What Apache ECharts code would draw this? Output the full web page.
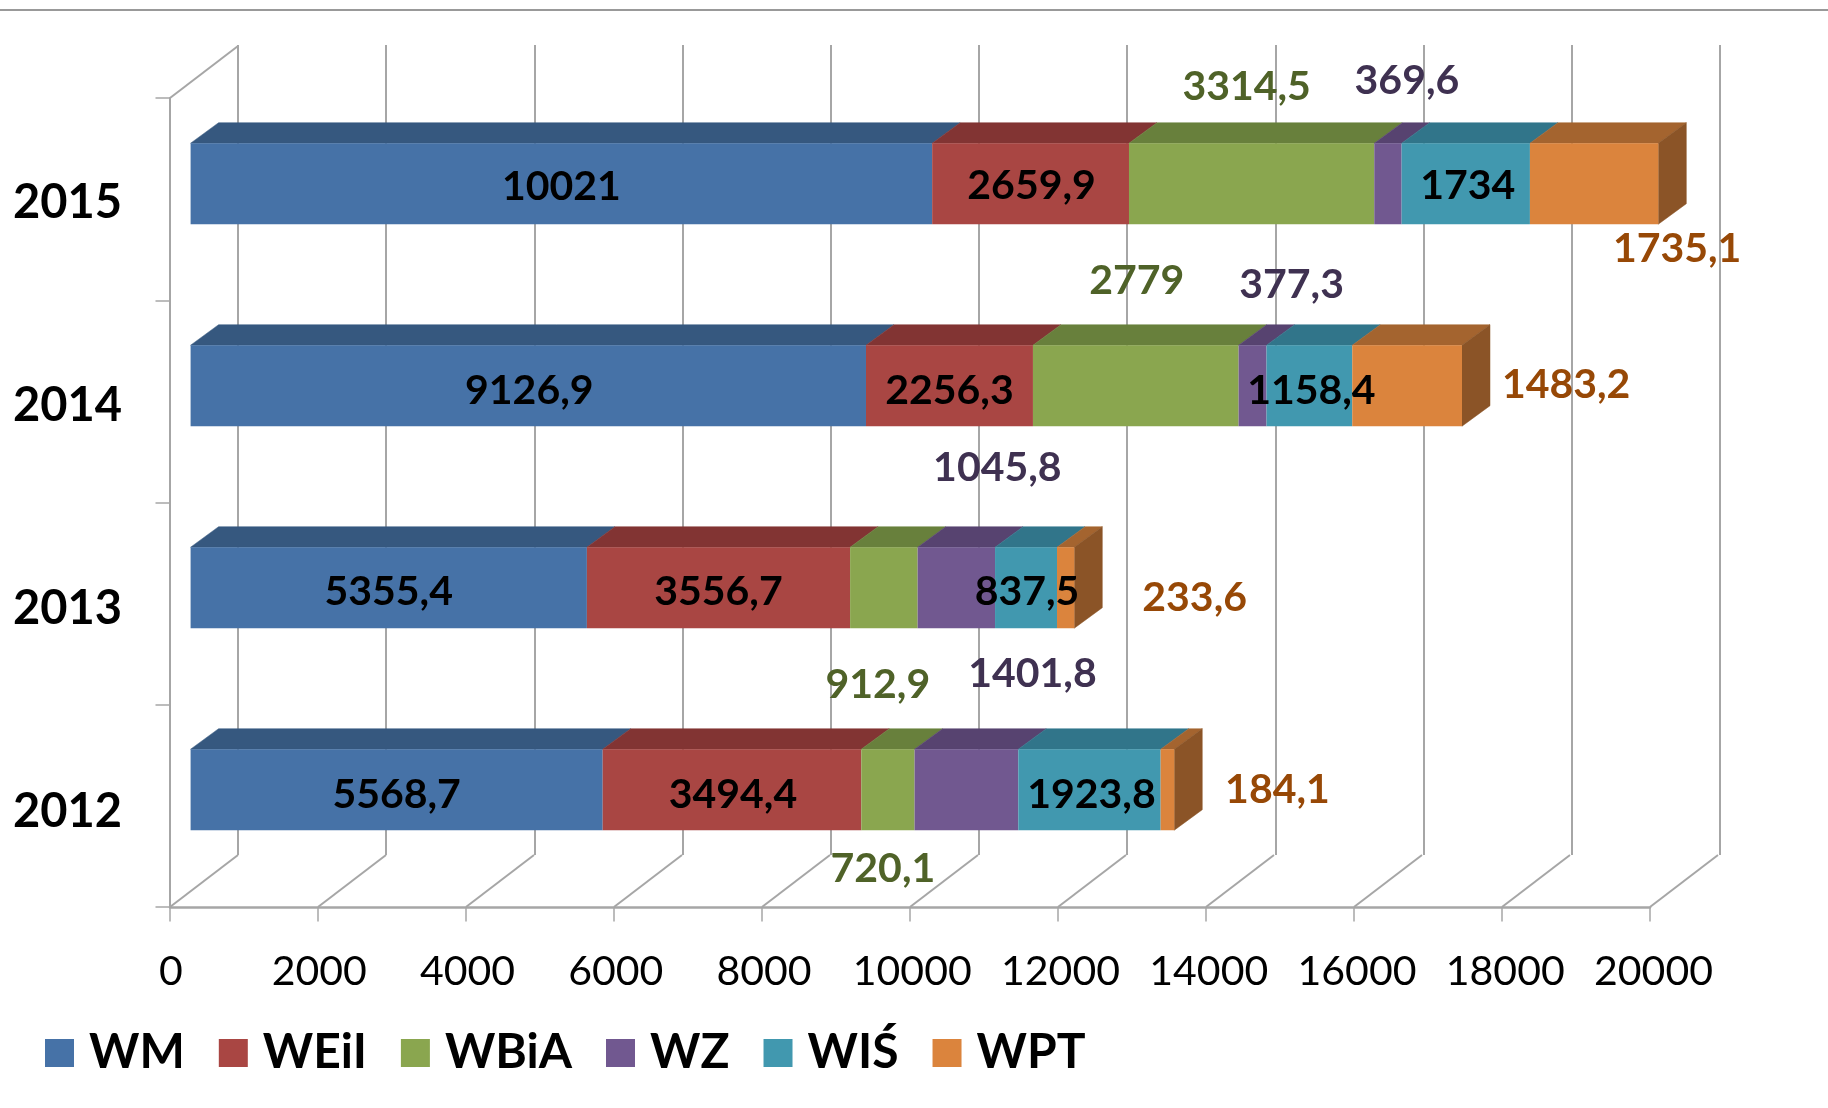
<!DOCTYPE html>
<html><head><meta charset="utf-8">
<style>html,body{margin:0;padding:0;background:#fff}#c{width:1828px;height:1108px}</style>
<script src="https://cdn.jsdelivr.net/npm/echarts@6/dist/echarts.min.js"></script>
</head><body><div id="c"></div>
<script>
const years = ['2012', '2013', '2014', '2015'];
const seriesNames = ['WM', 'WEiI', 'WBiA', 'WZ', 'WIŚ', 'WPT'];
const WM   = [5568.7, 5355.4, 9126.9, 10021];
const WEiI = [3494.4, 3556.7, 2256.3, 2659.9];
const WBiA = [720.1, 912.9, 2779, 3314.5];
const WZ   = [1401.8, 1045.8, 377.3, 369.6];
const WIS  = [1923.8, 837.5, 1158.4, 1734];
const WPT  = [184.1, 233.6, 1483.2, 1735.1];
const values = [WM, WEiI, WBiA, WZ, WIS, WPT];
const xTicks = [0, 2000, 4000, 6000, 8000, 10000, 12000, 14000, 16000, 18000, 20000];

// styles
const frontColors = ['#4672A7', '#A94643', '#8AA64F', '#715890', '#4198AF', '#DB843D'];
const topColors   = ['#36587F', '#823433', '#68803C', '#574370', '#31758A', '#A4642F'];
const sideColor = '#8B5427';
const labelColors = ['#000', '#000', '#4F6228', '#3F3151', '#000', '#974806'];
const gridColor = '#A6A6A6';
const FONT = 'Lato';
// label displacement from segment centre, per series then per year (2012..2015)
const labelOffsets = [
  [[0, 5], [0, 4], [1, 5], [0, 3]],
  [[1, 5], [0, 4], [0, 5], [1, 2]],
  [[-5, 79], [-6, 97], [1, -105], [-5, -97]],
  [[66, -116], [41, -120], [39, -101], [19, -103]],
  [[2, 5], [1, 4], [2, 5], [2, 2]],
  [[110, 0], [129, 10], [159, -1], [83, 65]]
];
const BAR_H = 81, BAR_DX = 28, BAR_DY = 20.5, WALL_DX = 68, WALL_DY = 52;

const chart = echarts.init(document.getElementById('c'));
const fmt = v => String(v).replace('.', ',');

const barSeries = seriesNames.map((name, s) => ({
  name, type: 'bar', stack: 'total', xAxisIndex: 2, yAxisIndex: 2,
  barWidth: BAR_H, z: 3, silent: true,
  itemStyle: { color: frontColors[s] },
  data: values[s].map((v, y) => ({
    value: v,
    label: { offset: labelOffsets[s][y] }
  })),
  label: {
    show: true, position: 'inside', color: labelColors[s],
    fontFamily: FONT, fontWeight: 'bold', fontSize: 41,
    formatter: p => fmt(p.value)
  }
}));

const faces = [];
years.forEach((_, y) => {
  let acc = 0;
  seriesNames.forEach((_, s) => {
    faces.push([acc, acc + values[s][y], y, s]);
    acc += values[s][y];
  });
});

const facesSeries = {
  type: 'custom', xAxisIndex: 2, yAxisIndex: 2, z: 2, silent: true, clip: false,
  data: faces,
  renderItem(params, api) {
    const a = api.coord([api.value(0), api.value(2)]);
    const b = api.coord([api.value(1), api.value(2)]);
    const s = api.value(3);
    const top = a[1] - BAR_H / 2, bot = a[1] + BAR_H / 2;
    const children = [{
      type: 'polygon',
      shape: { points: [[a[0], top], [b[0], top], [b[0] + BAR_DX, top - BAR_DY], [a[0] + BAR_DX, top - BAR_DY]] },
      style: { fill: topColors[s], stroke: topColors[s], lineWidth: 0.5 }
    }];
    if (s === seriesNames.length - 1) {
      children.push({
        type: 'polygon',
        shape: { points: [[b[0], top], [b[0] + BAR_DX, top - BAR_DY], [b[0] + BAR_DX, bot - BAR_DY], [b[0], bot]] },
        style: { fill: sideColor, stroke: sideColor, lineWidth: 0.5 }
      });
    }
    return { type: 'group', children };
  }
};

const wallSeries = {
  type: 'custom', xAxisIndex: 0, yAxisIndex: 0, z: 1, silent: true, clip: false,
  data: xTicks.map(t => [t]).concat([[0, 1]]),
  renderItem(params, api) {
    const band = api.size([0, 1])[1];
    const isTop = api.value(1) === 1;
    const p = api.coord([api.value(0), isTop ? years.length - 1 : 0]);
    const y = isTop ? p[1] - band / 2 : p[1] + band / 2;
    return {
      type: 'line',
      shape: { x1: p[0], y1: y, x2: p[0] + WALL_DX, y2: y - WALL_DY },
      style: { stroke: gridColor, lineWidth: 2 }
    };
  }
};

chart.setOption({
  animation: false,
  backgroundColor: '#fff',
  graphic: [{
    type: 'rect', left: 0, top: 9, shape: { width: 1828, height: 2 },
    style: { fill: '#999' }, silent: true
  }],
  legend: {
    show: true, data: seriesNames, left: 40, top: 1024, itemWidth: 29, itemHeight: 28,
    itemGap: 34, icon: 'rect', selectedMode: false,
    textStyle: { fontFamily: FONT, fontWeight: 'bold', fontSize: 48, color: '#000', padding: [8, 0, 0, 10] }
  },
  grid: [
    { left: 170, width: 1480, top: 98, height: 809 },
    { left: 238, width: 1482, top: 45, height: 810 },
    { left: 190.6, width: 1480, top: 82.7, height: 808 },
    { left: 171, width: 1482.5, top: 101.5, height: 812 }
  ],
  xAxis: [
    {
      type: 'value', gridIndex: 0, min: 0, max: 20000, interval: 2000,
      splitLine: { show: false },
      axisLine: { show: true, onZero: false, lineStyle: { color: gridColor, width: 2.5 } },
      axisTick: { show: true, length: 14.5, lineStyle: { color: gridColor, width: 1.5 } },
      axisLabel: { show: false }
    },
    {
      type: 'value', gridIndex: 1, min: 0, max: 20000, interval: 2000,
      axisLine: { show: false }, axisTick: { show: false }, axisLabel: { show: false },
      splitLine: { show: true, showMinLine: true, showMaxLine: true, lineStyle: { color: gridColor, width: 2 } }
    },
    {
      type: 'value', gridIndex: 2, min: 0, max: 20000, interval: 2000,
      axisLine: { show: false }, axisTick: { show: false }, axisLabel: { show: false }, splitLine: { show: false }
    },
    {
      type: 'value', gridIndex: 3, min: 0, max: 20000, interval: 2000,
      axisLine: { show: false }, axisTick: { show: false }, splitLine: { show: false },
      axisLabel: { show: true, margin: 37.5, color: '#000', fontFamily: FONT, fontSize: 41, hideOverlap: false, showMinLabel: true, showMaxLabel: true, formatter: v => String(v) }
    }
  ],
  yAxis: [
    {
      type: 'category', gridIndex: 0, data: years,
      axisLine: { show: true, lineStyle: { color: gridColor, width: 2 } },
      axisTick: { show: true, length: 14.5, lineStyle: { color: gridColor, width: 1.5 } },
      axisLabel: { show: false },
      splitLine: { show: false }
    },
    {
      type: 'category', gridIndex: 1, data: years,
      axisLine: { show: false }, axisTick: { show: false }, axisLabel: { show: false }, splitLine: { show: false }
    },
    {
      type: 'category', gridIndex: 2, data: years,
      axisLine: { show: false }, axisTick: { show: false }, axisLabel: { show: false }, splitLine: { show: false }
    },
    {
      type: 'category', gridIndex: 3, data: years,
      axisLine: { show: false }, axisTick: { show: false }, splitLine: { show: false },
      axisLabel: { show: true, margin: 49, color: '#000', fontFamily: FONT, fontWeight: 'bold', fontSize: 47 }
    }
  ],
  series: [wallSeries, facesSeries].concat(barSeries)
});
</script></body></html>
